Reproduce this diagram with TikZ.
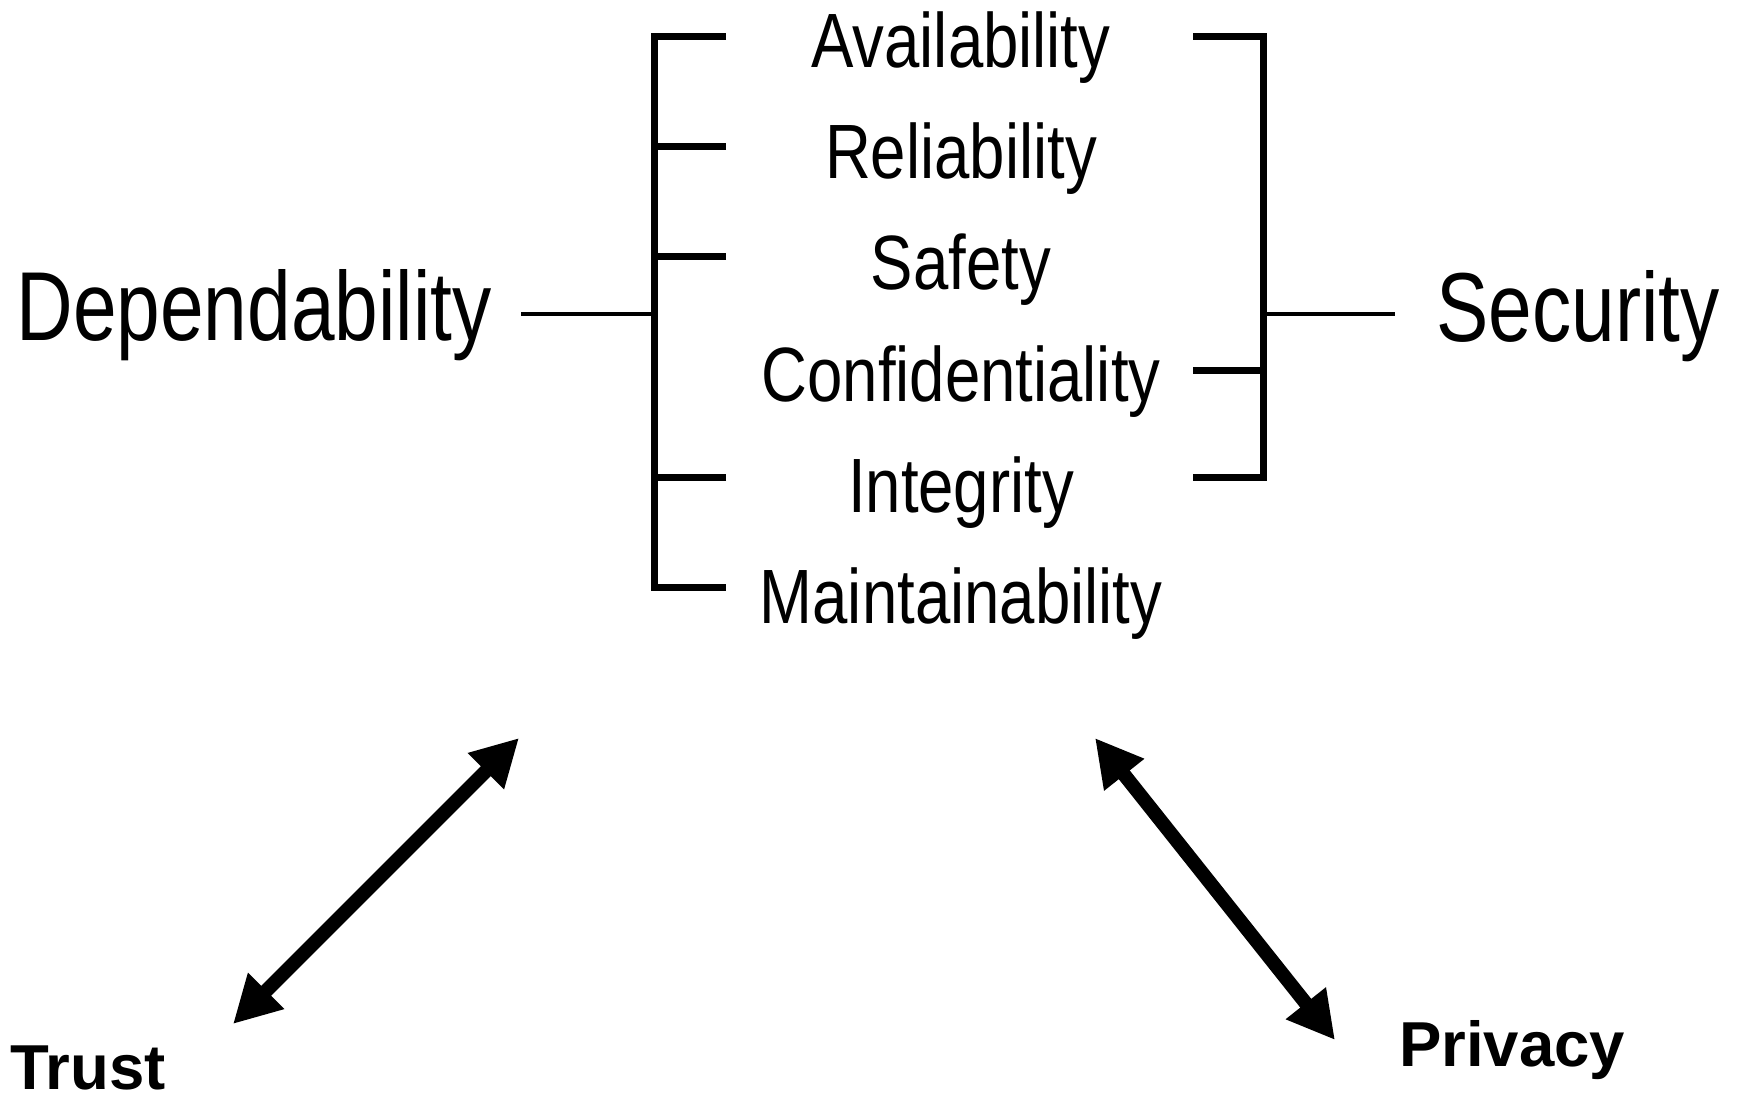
\documentclass[tikz,border=0pt]{standalone}
\usepackage{fontspec}
\setmainfont{Liberation Sans}
\newfontfamily\condfont[FakeStretch=0.80,Ligatures=NoCommon]{Liberation Sans}
\newfontfamily\itemfont[FakeStretch=0.825,Ligatures=NoCommon]{Liberation Sans}
\usetikzlibrary{arrows.meta}
\begin{document}
\begin{tikzpicture}[x=1pt,y=-1pt,
  big/.style={font=\condfont\fontsize{98}{100}\selectfont, inner sep=0pt, anchor=base},
  item/.style={font=\itemfont\fontsize{77}{80}\selectfont, inner sep=0pt, anchor=base},
  boldlbl/.style={font=\bfseries\fontsize{63.5}{66}\selectfont, inner sep=0pt, anchor=base west},
  brk/.style={line width=7pt, line join=miter},
  stem/.style={line width=4pt},
  dbl/.style={line width=14pt, {Triangle[length=47pt,width=48pt]}-{Triangle[length=47pt,width=48pt]}}]
\useasboundingbox (0,0) rectangle (1739,1099);

% labels
\node[big] (dep) at (254,340) {Dependability};
\node[big] (sec) at (1578,341) {Security};
\node[item] (avail) at (961,68) {Availability};
\node[item] (rel) at (961,179) {Reliability};
\node[item] (saf) at (961,290) {Safety};
\node[item] (conf) at (961,401) {Confidentiality};
\node[item] (integ) at (961,512) {Integrity};
\node[item] (maint) at (961,623) {Maintainability};
\node[boldlbl] (trust) at (10,1089) {Trust};
\node[boldlbl] (priv) at (1399,1066) {Privacy};

% left bracket
\coordinate (la) at (726,37);
\coordinate (lr) at (726,147);
\coordinate (ls) at (726,257);
\coordinate (li) at (726,477);
\coordinate (lm) at (726,587);
\coordinate (lv1) at (654,37);
\coordinate (lv2) at (654,587);
\coordinate (lj) at (654,314);
\coordinate (ld) at (521,314);
\draw[brk] (la) -- (lv1) -- (lv2) -- (lm);
\draw[brk] (lr) -- (lr -| lv1);
\draw[brk] (ls) -- (ls -| lv1);
\draw[brk] (li) -- (li -| lv1);
\draw[stem] (ld) -- (lj);

% right bracket
\coordinate (ra) at (1193,37);
\coordinate (rc) at (1193,370);
\coordinate (ri) at (1193,477);
\coordinate (rv1) at (1263,37);
\coordinate (rv2) at (1263,477);
\coordinate (rj) at (1263,314);
\coordinate (rs) at (1395,314);
\draw[brk] (ra) -- (rv1) -- (rv2) -- (ri);
\draw[brk] (rc) -- (rc -| rv1);
\draw[stem] (rj) -- (rs);

% arrows
\coordinate (t1) at (233,1024);
\coordinate (t2) at (519,738);
\coordinate (p1) at (1095,738);
\coordinate (p2) at (1335,1040);
\draw[dbl] (t1) -- (t2);
\draw[dbl] (p1) -- (p2);
\end{tikzpicture}
\end{document}
